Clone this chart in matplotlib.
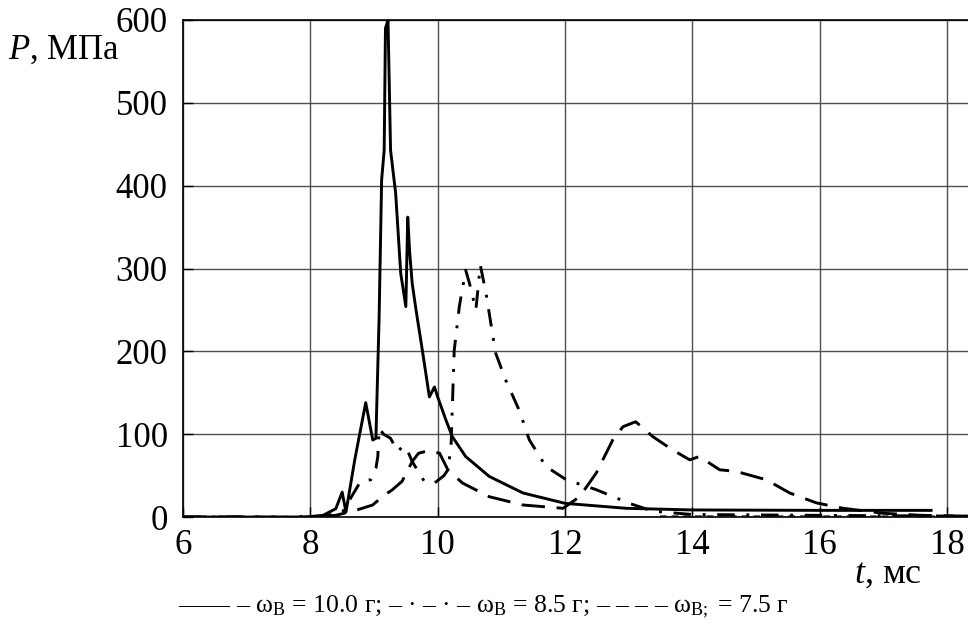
import matplotlib
matplotlib.use("Agg")
import matplotlib.pyplot as plt

plt.rcParams['font.family'] = ['Liberation Serif', 'DejaVu Serif']
plt.rcParams['mathtext.fontset'] = 'custom'
plt.rcParams['mathtext.rm'] = 'Liberation Serif'
plt.rcParams['mathtext.it'] = 'Liberation Serif:italic'

# === Data ===
# omega = 10.0 g (solid)
t_solid = [6.0, 7.0, 7.8, 8.2, 8.4, 8.5, 8.56, 8.7, 8.87, 8.98, 9.03, 9.08, 9.12,
           9.16, 9.18, 9.22, 9.26, 9.34, 9.42, 9.50, 9.53, 9.56, 9.60, 9.66, 9.76,
           9.87, 9.95, 10.0, 10.13, 10.23, 10.44, 10.81, 11.34, 12.0, 12.96, 14.0,
           16.0, 17.75]
p_solid = [0, 0, -1, 2, 10, 30, 6, 70, 138, 93, 95, 240, 407,
           443, 590, 600, 443, 391, 294, 254, 362, 320, 282, 250, 201,
           145, 157, 145, 117, 97, 73, 49, 29, 16.5, 10.5, 8.5,
           8, 8]

# omega = 8.5 g (dash-dot)
t_dashdot = [6.0, 7.5, 8.2, 8.5, 8.65, 8.79, 8.95, 9.03, 9.06, 9.08, 9.15, 9.26,
             9.37, 9.45, 9.5, 9.6, 9.79, 9.95, 10.1, 10.16, 10.21, 10.26, 10.34,
             10.44, 10.5, 10.6, 10.67, 10.76, 10.91, 11.07, 11.28, 11.44, 11.7,
             12.02, 12.49, 13.01, 13.38, 14.0, 16.0, 18.33]
p_dashdot = [0, 0, 1, 5, 25, 43, 45, 59, 73, 107, 100, 95,
             79, 85, 85, 67, 43, 41, 50, 57, 85, 201, 254,
             298, 282, 250, 304, 270, 198, 165, 129, 93, 61,
             45, 33, 16.5, 7, 3, 2, 1]

# omega = 7.5 g (dashed)
t_dashed = [6.0, 8.0, 8.4, 8.71, 8.98, 9.13, 9.29, 9.44, 9.6, 9.7, 9.85, 10.03,
            10.16, 10.39, 10.81, 11.34, 11.97, 12.23, 12.49, 12.75, 12.91, 13.11,
            13.38, 13.69, 13.96, 14.11, 14.43, 14.69, 15.16, 15.53, 15.95, 16.37,
            17.0, 17.6, 18.33]
p_dashed = [0, 0, 2, 8, 14.5, 24.5, 33, 43, 67, 77, 80, 77,
            57, 41, 24.5, 14.5, 10.5, 24.5, 53, 93, 109, 115,
            97, 81, 69, 73, 57, 55, 45, 29, 17, 10.5,
            4.5, 2, 1]

# faint red trace along the axis
t_red = [13.5, 18.33]
p_red = [1, 1]

x_ticks = [6, 8, 10, 12, 14, 16, 18]
y_ticks = [0, 100, 200, 300, 400, 500, 600]

# === Plotting ===
fig = plt.figure(figsize=(9.68, 6.32), dpi=100)
ax = fig.add_axes([183 / 968, 1 - 517 / 632, 1 - 183 / 968, (517 - 20) / 632])

ax.plot(t_red, p_red, color='red', lw=1.2, ls=(0, (4, 3)), zorder=2)
ax.plot(t_solid, p_solid, color='black', lw=2.1, zorder=4)
ax.plot(t_dashdot, p_dashdot, color='black', lw=2.1, ls=(0, (6, 4, 1, 4)), zorder=4)
ax.plot(t_dashed, p_dashed, color='black', lw=2.1, ls=(0, (8, 4)), zorder=4)

ax.set_xlim(6, 18.33)
ax.set_ylim(0, 600)
ax.set_xticks(x_ticks)
ax.set_yticks(y_ticks)
ax.set_xticklabels([str(v) for v in x_ticks])
ax.set_yticklabels([str(v) for v in y_ticks])
ax.tick_params(direction='in', length=7, width=1, labelsize=25, pad=9)
ax.tick_params(axis='y', pad=11)
ax.grid(True, color='#505050', lw=1)
for s in ['left', 'bottom', 'top']:
    ax.spines[s].set_linewidth(1.2)
ax.spines['right'].set_visible(False)

fig.text(8 / 968, 1 - 50 / 632, r"$P$, МПа", fontsize=25, va='center', ha='left')
fig.text(888 / 968, 1 - 574 / 632, r"$t$, мс", fontsize=26, va='center', ha='center')

legend = ("—— – ω$_{\\mathrm{В}}$ = 10.0 г; – · – · – ω$_{\\mathrm{В}}$ = 8.5 г; "
          "– – – – ω$_{\\mathrm{В;}}$ = 7.5 г")
fig.text(483 / 968, 1 - 607 / 632, legend, fontsize=18.5, va='center', ha='center')

fig.savefig("out.png", dpi=100)
